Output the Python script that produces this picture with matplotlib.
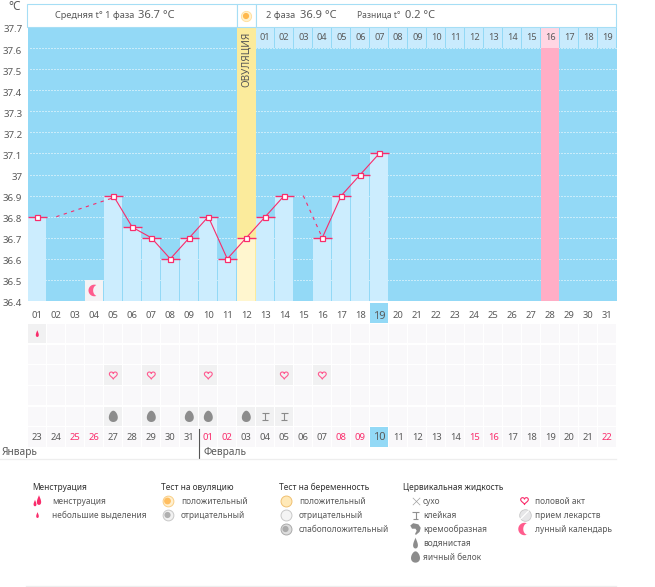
import numpy as np
import matplotlib
matplotlib.use("Agg")
import matplotlib.pyplot as plt
from matplotlib.path import Path
from matplotlib.patches import Rectangle
from matplotlib.transforms import ScaledTranslation

plt.rcParams['font.family'] = ['Noto Sans', 'DejaVu Sans']

# ---------- data ----------
cycle_days = list(range(1, 32))
temps = [36.8, None, None, None, 36.9, 36.75, 36.7, 36.6, 36.7, 36.8, 36.6, 36.7,
         36.8, 36.9, None, 36.7, 36.9, 37.0, 37.1]
dash_a_days = [2, 5]
dash_a_vals = [36.8, 36.89]
dash_b_days = [15, 16]
dash_b_vals = [36.9, 36.7]
y_ticks = [36.4, 36.5, 36.6, 36.7, 36.8, 36.9, 37, 37.1, 37.2, 37.3, 37.4, 37.5, 37.6, 37.7]
y_labels = ['36.4', '36.5', '36.6', '36.7', '36.8', '36.9', '37', '37.1', '37.2', '37.3', '37.4', '37.5', '37.6', '37.7']
ovulation_day = 12
today = 19
second_phase_days = list(range(13, 32))
second_phase_labels = ['%02d' % i for i in range(1, 20)]
pink_day = 28
moon_days = [4]
dates = ['23', '24', '25', '26', '27', '28', '29', '30', '31', '01', '02', '03', '04', '05', '06', '07',
         '08', '09', '10', '11', '12', '13', '14', '15', '16', '17', '18', '19', '20', '21', '22']
red_dates = ['25', '26', '01', '02', '08', '09', '15', '16', '22']
spot_days = [1]
sex_days = [5, 7, 10, 14, 16]
egg_days = [5, 7, 9, 10, 12]
sticky_days = [13, 14]

# ---------- colours ----------
BG = '#93D9F6'; BAR = '#CCEDFE'; RED = '#F92C6B'; TXT = '#5A5A5A'; BORDER = '#A6DEF5'
YEL = '#FBEB9C'; YEL2 = '#FFF6CF'; PINK = '#FFAEC6'; PINK2 = '#FFD6E3'; HDR = '#C9EBFD'
CELL = '#F9F8FA'; CELL_ON = '#F1F1F2'; GRAY = '#8C8C8C'

# ---------- marker shapes ----------
t = np.linspace(0, 2 * np.pi, 60)
heart = Path(np.c_[16 * np.sin(t) ** 3,
                   13 * np.cos(t) - 5 * np.cos(2 * t) - 2 * np.cos(3 * t) - np.cos(4 * t)])
egg = Path(np.c_[np.cos(t) * (0.78 - 0.16 * np.sin(t)), np.sin(t) * 1.0])
drop = Path(np.c_[np.cos(t) * 0.6 * (1 - np.sin(t)) ** 0.75 * 0.62, np.sin(t)])
sticky = Path([(-1, 1), (1, 1), (0, 1), (0, -1), (-.8, -1), (.8, -1)],
              [Path.MOVETO, Path.LINETO, Path.MOVETO, Path.LINETO, Path.MOVETO, Path.LINETO])
a1 = np.linspace(np.pi * .35, np.pi * 1.65, 40)
a3 = np.linspace(np.pi * 1.45, np.pi * .55, 40)
moon = Path(np.r_[np.c_[np.cos(a1), np.sin(a1)],
                  np.c_[0.55 + 0.75 * np.cos(a3), 0.95 * np.sin(a3)]])
blob = Path(np.array([(-.9, .6), (-.4, 1), (.5, .8), (.9, .2), (.7, -.5), (.1, -1), (-.1, -.9), (.2, -.3),
                      (0, .05), (-.6, .05), (-.9, .6)]))

fig = plt.figure(figsize=(6.55, 5.87), dpi=100, facecolor='#FFFFFF')
W, H = 655, 587


def axes_px(x0, y0, x1, y1, **kw):
    return fig.add_axes([x0 / W, 1 - y1 / H, (x1 - x0) / W, (y1 - y0) / H], **kw)


# ---------- page overlay in pixels ----------
pg = axes_px(0, 0, W, H)
pg.set_zorder(5)
pg.set_xlim(0, W); pg.set_ylim(H, 0); pg.axis('off')
for x0, x1 in [(27, 236.5), (236.5, 255.5), (255.5, 616)]:
    pg.add_patch(Rectangle((x0, 3.5), x1 - x0, 23.5, fc='white', ec=BORDER, lw=0.8))
pg.text(14.5, 7, '°C', fontsize=8.5, color=TXT, ha='center', va='center')
pg.text(55, 15.5, 'Средняя t° 1 фаза', fontsize=6.6, color=TXT, va='center')
pg.text(138, 15, '36.7 °C', fontsize=8, color=TXT, va='center')
pg.text(266, 15.5, '2 фаза', fontsize=6.6, color=TXT, va='center')
pg.text(300, 15, '36.9 °C', fontsize=8, color=TXT, va='center')
pg.text(357, 15.5, 'Разница t°', fontsize=6.1, color=TXT, va='center')
pg.text(405, 15, '0.2 °C', fontsize=8, color=TXT, va='center')
pg.scatter([246], [16], s=55, c='#FFF2CC', edgecolors='#FFDD99', linewidths=.6, zorder=3)
pg.scatter([246], [16], s=20, c='#FFB84D', edgecolors='none', zorder=4)
pg.plot([198.5, 198.5], [429, 458], color='#555555', lw=0.8)
pg.plot([0, 616], [458.5, 458.5], color='#EEEEEE', lw=0.9)
pg.plot([26, 616], [586, 586], color='#EEEEEE', lw=0.9)
pg.text(2, 453, 'Январь', fontsize=7.3, color=TXT, va='center')
pg.text(203, 453, 'Февраль', fontsize=7.3, color=TXT, va='center')

# legend
legend_titles = [(32, 'Менструация'), (161, 'Тест на овуляцию'), (279, 'Тест на беременность'),
                 (403, 'Цервикальная жидкость')]
for x, s in legend_titles:
    pg.text(x, 487, s, fontsize=6.0, color='#333333', va='center', fontweight='medium')
legend_items = [(52, 501, 'менструация'), (52, 515, 'небольшие выделения'),
                (181, 501, 'положительный'), (181, 515, 'отрицательный'),
                (299, 501, 'положительный'), (299, 515, 'отрицательный'),
                (299, 529, 'слабоположительный'),
                (423, 501, 'сухо'), (423, 515, 'клейкая'), (423, 529, 'кремообразная'),
                (423, 543, 'водянистая'), (423, 557, 'яичный белок'),
                (535, 501, 'половой акт'), (535, 515, 'прием лекарств'), (535, 529, 'лунный календарь')]
for x, y, s in legend_items:
    pg.text(x, y, s, fontsize=6.0, color=TXT, va='center')
# legend icons
pg.scatter([39, 35], [500, 503], marker=drop, s=[50, 22], c=RED, edgecolors='none')
pg.scatter([37.5], [515], marker=drop, s=18, c=RED, edgecolors='none')
pg.scatter([167.5], [501], s=60, c='#FFF0D0', edgecolors='#F9CE85', linewidths=.7)
pg.scatter([167.5], [501], s=24, c='#FFBE60', edgecolors='none')
pg.scatter([167.5], [515], s=60, c='#F2F2F2', edgecolors='#C8C8C8', linewidths=.7)
pg.scatter([167.5], [515], s=20, c='#B0B0B0', edgecolors='none')
pg.scatter([286], [501], s=62, c='#FFE9B8', edgecolors='#F0C070', linewidths=.7)
pg.scatter([286], [515], s=62, c='#F4F4F4', edgecolors='#C8C8C8', linewidths=.7)
pg.scatter([286], [529], s=62, c='#DDDDDD', edgecolors='#AAAAAA', linewidths=.7)
pg.scatter([285.5], [529], s=20, c='#AAAAAA', edgecolors='none')
pg.scatter([415.5], [501], marker='x', s=28, c='#A0A0A0', linewidths=.5)
pg.scatter([415.5], [515.5], marker=sticky, s=28, facecolors='none', edgecolors='#909090', linewidths=.8)
pg.scatter([415.5], [529], marker=blob, s=70, c=GRAY, edgecolors='none')
pg.scatter([415.5], [543], marker=drop, s=62, c=GRAY, edgecolors='none')
pg.scatter([415.5], [557], marker=egg, s=66, c=GRAY, edgecolors='none')
pg.scatter([524.5], [500.5], marker=heart, s=34, facecolors='none', edgecolors=RED, linewidths=.8)
pg.scatter([524.5], [515], s=70, c='#E6E6E8', edgecolors='#C8C8C8', linewidths=.6)
pg.plot([520.5, 528.5], [519, 511], color='white', lw=.9)
pg.scatter([524.5], [529], marker=moon, s=80, c='#FF5C8D', edgecolors='none')

# ---------- main chart ----------
ax = axes_px(27.8, 27, 616.8, 301)
ax.set_zorder(2)
ax.set_facecolor(BG)
ax.set_xlim(0.5, 31.5)
ax.set_ylim(36.4, 37.7)
for s in ax.spines.values():
    s.set_visible(False)
ax.hlines([v for v in y_ticks[1:-1]], 0.62, 31.5, colors='white', lw=0.72,
          linestyles=[(0, (1, 2))], zorder=1)

# ovulation and marked columns
ax.bar([ovulation_day], [37.7 - 36.4], bottom=36.4, width=1.0, color=YEL, zorder=2)
ax.bar([pink_day], [37.6 - 36.4], bottom=36.4, width=0.95, color=PINK, zorder=2)
# header cells
ax.bar(second_phase_days, [0.1] * len(second_phase_days), bottom=37.6, width=0.95,
       color=[PINK2 if d == pink_day else HDR for d in second_phase_days], zorder=2)
for d, s in zip(second_phase_days, second_phase_labels):
    ax.text(d, 37.65, s, fontsize=6.6, color=TXT, ha='center', va='center', zorder=5)
ax.text(ovulation_day, 37.545, 'ОВУЛЯЦИЯ', rotation=90, fontsize=7.2, color='#555555',
        ha='center', va='center', zorder=5)

# bars
days = [d for d, v in zip(cycle_days, temps) if v is not None]
vals = [v for v in temps if v is not None]
heights = [v - 36.4 for v in vals]
ax.bar(days, heights, bottom=36.4, width=0.95,
       color=[YEL2 if d == ovulation_day else BAR for d in days], zorder=3)

# moon cell
ax.bar(moon_days, [0.1], bottom=36.4, width=0.95, color='#F4F3F5', zorder=3)
ax.scatter(moon_days, [36.45], marker=moon, s=70, c='#FF5C8D', edgecolors='none', zorder=4)

# lines
ax.hlines(vals, [d - .5 for d in days], [d + .5 for d in days], colors=RED, lw=1.0, zorder=5)
ax.plot(dash_a_days, dash_a_vals, color=RED, lw=0.8, ls=(0, (3, 4)), zorder=5)
ax.plot(dash_b_days, dash_b_vals, color=RED, lw=0.8, ls=(0, (3, 4)), zorder=5)
runs, cur = [], []
for d, v in zip(cycle_days, temps):
    if v is None:
        if cur:
            runs.append(cur)
        cur = []
    else:
        cur.append((d, v))
runs.append(cur)
for r in runs:
    ax.plot([p[0] for p in r], [p[1] for p in r], color=RED, lw=0.8, zorder=6)
ax.plot(days, vals, ls='none', marker='s', ms=3.6, mfc='white', mec=RED, mew=0.9, zorder=7)

# axis ticks
ax.set_yticks(y_ticks)
ax.set_yticklabels(y_labels, fontsize=7.0, color=TXT)
ax.set_xticks(cycle_days)
ax.set_xticklabels(['%02d' % d for d in cycle_days], fontsize=6.8, color=TXT)
ax.tick_params(length=0, axis='y', pad=4)
ax.tick_params(length=0, axis='x', pad=7)
shift = ScaledTranslation(0, -2 / 100, fig.dpi_scale_trans)
for lab in ax.get_yticklabels():
    lab.set_transform(lab.get_transform() + shift)
ax.get_xticklabels()[today - 1].set_fontsize(8)

# ---------- calendar grid ----------
cal = axes_px(27.8, 302.5, 616.8, 447.4)
cal.set_zorder(1)
cal.patch.set_alpha(0)
cal.set_xlim(0.5, 31.5)
cal.set_ylim(6.5, -0.5)
cal.axis('off')
for row in range(1, 7):
    cal.bar(cycle_days, [0.93] * 31, bottom=row - .465, width=0.95, color=CELL, zorder=1)


def on_cells(ds, row):
    cal.bar(ds, [0.93] * len(ds), bottom=row - .465, width=0.95, color=CELL_ON, zorder=2)


on_cells(spot_days, 1); on_cells(sex_days, 3); on_cells(egg_days + sticky_days, 5)
cal.scatter(spot_days, [1] * len(spot_days), marker=drop, s=24, c=RED, edgecolors='none', zorder=3)
cal.scatter(sex_days, [3] * len(sex_days), marker=heart, s=36, facecolors='none', edgecolors='#FF5A90',
            linewidths=.8, zorder=3)
cal.scatter(egg_days, [5] * len(egg_days), marker=egg, s=66, c=GRAY, edgecolors='none', zorder=3)
cal.scatter(sticky_days, [5] * len(sticky_days), marker=sticky, s=26, facecolors='none', edgecolors='#8A8A8A',
            linewidths=.8, zorder=3)
cal.bar([today], [0.96], bottom=-.48, width=0.95, color=BG, zorder=0)
cal.bar([today], [0.93], bottom=6 - .465, width=0.95, color=BG, zorder=3)
for d, s in zip(cycle_days, dates):
    cal.text(d, 6, s, fontsize=8 if d == today else 6.8, ha='center', va='center', zorder=4,
             color=RED if s in red_dates else TXT)

fig.savefig('out.png', dpi=100)
